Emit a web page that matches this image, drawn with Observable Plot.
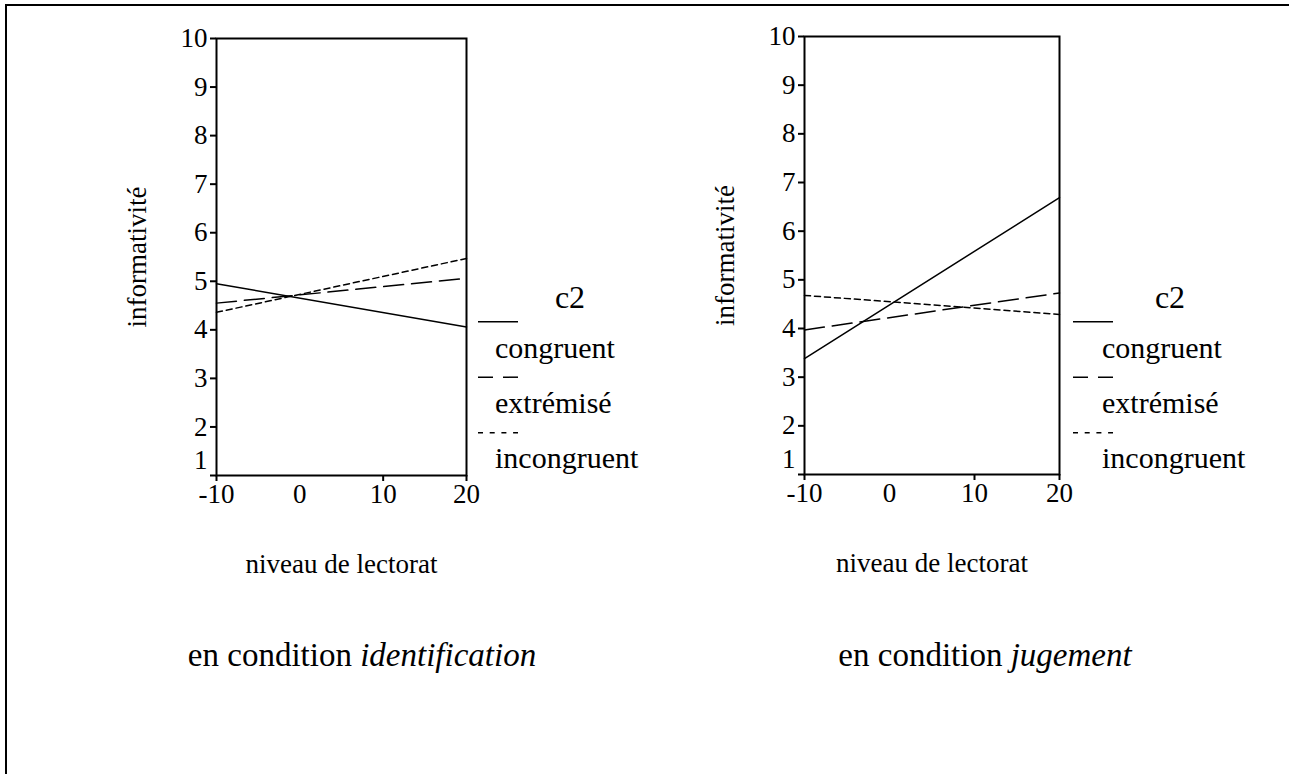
<!DOCTYPE html>
<html>
<head>
<meta charset="utf-8">
<script src="https://cdn.jsdelivr.net/npm/d3@7"></script>
<script src="https://cdn.jsdelivr.net/npm/@observablehq/plot@0.6"></script>
<style>
html, body { margin: 0; padding: 0; background: #fff; }
#page { position: relative; width: 1289px; height: 774px; overflow: hidden; background: #fff;
  font-family: "Liberation Serif", "Times New Roman", serif; color: #000; }
.panel { position: absolute; top: 0; }
#overlay { position: absolute; left: 0; top: 0; }
svg text, svg tspan { font-family: "Liberation Serif", "Times New Roman", serif !important; }
</style>
</head>
<body>
<div id="page">
  <div id="left" class="panel" style="left:0px"></div>
  <div id="right" class="panel" style="left:590px"></div>
  <svg id="overlay" width="1289" height="774"></svg>
</div>
<script>
// ---------- data ----------
const xDomain = [-10, 20];
const yDomain = [1, 10];
const xTickValues = [-10, 0, 10, 20];
const xTickMarks = [-10, 10, 20];
const yTickValues = [1, 2, 3, 4, 5, 6, 7, 8, 9, 10];
const groups = ["congruent", "extrémisé", "incongruent"];
const lectorat = [-10, 20];

// condition identification
const identCongruent = [4.95, 4.06];
const identExtremise = [4.55, 5.06];
const identIncongruent = [4.36, 5.47];
// condition jugement
const jugeCongruent = [3.38, 6.69];
const jugeExtremise = [3.97, 4.73];
const jugeIncongruent = [4.68, 4.29];

const legendTitle = "c2";
const xLabel = "niveau de lectorat";
const yLabel = "informativité";
const captionPrefix = "en condition ";
const conditions = ["identification", "jugement"];

const dashStyles = {"congruent": null, "extrémisé": "20,8", "incongruent": "6,4"};
const legendDashes = {"congruent": null, "extrémisé": "15,10", "incongruent": "5,6.7"};

const FONT = "Liberation Serif, Times New Roman, serif";

function rows(values) {
  return lectorat.map((x, i) => ({x, y: values[i]}));
}

function panel(series, {width, height, marginLeft, marginRight, marginTop, marginBottom}) {
  return Plot.plot({
    width, height, marginLeft, marginRight, marginTop, marginBottom,
    x: {domain: xDomain},
    y: {domain: yDomain},
    style: {fontFamily: FONT, fontSize: "27px", color: "#000", background: "transparent", overflow: "visible"},
    marks: [
      Plot.frame({stroke: "#000", strokeWidth: 2}),
      Plot.axisY({ticks: yTickValues, tickFormat: () => "", fill: "none", tickSize: 6, strokeWidth: 2, label: null}),
      Plot.axisY({ticks: yTickValues.filter(v => v !== 1), tickFormat: d => String(d), tickSize: 0, tickPadding: 9,
        label: yLabel, labelAnchor: "center", labelOffset: 90, labelArrow: "none"}),
      Plot.axisY({ticks: [1], tickFormat: d => String(d), tickSize: 0, tickPadding: 9, dy: -15, label: null}),
      Plot.axisX({ticks: xTickMarks, tickFormat: () => "", fill: "none", tickSize: 6, strokeWidth: 2, label: null}),
      Plot.axisX({ticks: xTickValues, tickFormat: d => String(d), tickSize: 0, tickPadding: 8,
        label: xLabel, labelAnchor: "center", labelOffset: 97, labelArrow: "none"}),
      ...groups.map((g, i) => Plot.line(rows(series[i]), {
        x: "x", y: "y", stroke: "#000", strokeWidth: 1.5,
        strokeDasharray: dashStyles[g] || undefined
      }))
    ]
  });
}

document.getElementById("left").append(
  panel([identCongruent, identExtremise, identIncongruent],
    {width: 486, height: 600, marginLeft: 216, marginRight: 20, marginTop: 38, marginBottom: 125})
);
document.getElementById("right").append(
  panel([jugeCongruent, jugeExtremise, jugeIncongruent],
    {width: 489, height: 600, marginLeft: 214, marginRight: 20, marginTop: 36, marginBottom: 126})
);

// ---------- overlay: border, legends, captions ----------
const svg = d3.select("#overlay").attr("font-family", FONT);
svg.append("path").attr("d", "M6,774 V5 H1289").attr("fill", "none").attr("stroke", "#000").attr("stroke-width", 2);

function legend(lineX, textX, titleX) {
  const g = svg.append("g");
  g.append("text").attr("x", titleX).attr("y", 308).attr("text-anchor", "middle")
    .attr("font-family", FONT).attr("font-size", 32).text(legendTitle);
  groups.forEach((name, i) => {
    const ly = 321.7 + i * 55.5;
    g.append("line").attr("x1", lineX).attr("x2", lineX + 40).attr("y1", ly).attr("y2", ly)
      .attr("stroke", "#000").attr("stroke-width", 1.5)
      .attr("stroke-dasharray", legendDashes[name]);
    g.append("text").attr("x", textX).attr("y", 358 + i * 55)
      .attr("font-family", FONT).attr("font-size", 30).text(name);
  });
}
legend(478, 495, 570);
legend(1073, 1102, 1170);

const capCenters = [362, 985];
conditions.forEach((c, i) => {
  const t = svg.append("text").attr("x", capCenters[i]).attr("y", 666).attr("text-anchor", "middle")
    .attr("font-family", FONT).attr("font-size", 33);
  t.append("tspan").text(captionPrefix);
  t.append("tspan").attr("font-style", "italic").text(c);
});
</script>
</body>
</html>
